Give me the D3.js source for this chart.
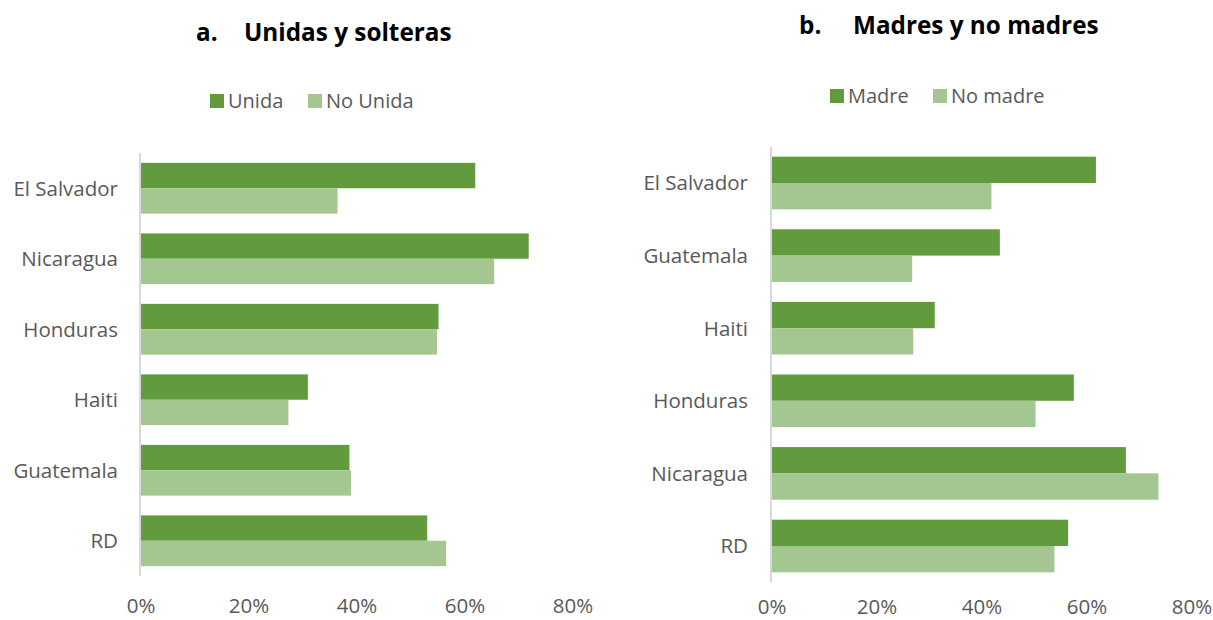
<!DOCTYPE html>
<html>
<head>
<meta charset="utf-8">
<script src="https://cdn.jsdelivr.net/npm/d3@7"></script>
<style>
  body { margin: 0; background: #fff; }
  svg { display: block; font-family: 'Open Sans', sans-serif; }
</style>
</head>
<body>
<div id="chart"></div>
<script>
// panel a
const catsA = ['El Salvador', 'Nicaragua', 'Honduras', 'Haiti', 'Guatemala', 'RD'];
const unida = [61.9, 71.8, 55.1, 30.9, 38.6, 53.0];
const noUnida = [36.4, 65.4, 54.8, 27.3, 38.9, 56.5];

// panel b
const catsB = ['El Salvador', 'Guatemala', 'Haiti', 'Honduras', 'Nicaragua', 'RD'];
const madre = [61.7, 43.4, 31.0, 57.5, 67.4, 56.4];
const noMadre = [41.8, 26.7, 26.9, 50.2, 73.6, 53.8];

const ticks = [0, 20, 40, 60, 80];
const dark = '#629B3E';
const light = '#A4C690';

const width = 1213;
const height = 620;

const svg = d3.select('#chart')
  .append('svg')
  .attr('width', width)
  .attr('height', height);

function drawPanel(cfg) {
  const g = svg.append('g');

  const x = d3.scaleLinear()
    .domain([0, 80])
    .range([cfg.x0, cfg.x1]);

  const y = d3.scaleBand()
    .domain(cfg.cats)
    .range([cfg.y0, cfg.y1])
    .paddingInner(cfg.pad)
    .paddingOuter(cfg.pad / 2);

  const sub = d3.scaleBand()
    .domain([0, 1])
    .range([0, y.bandwidth()]);

  const rows = cfg.cats.map((c, i) => ({ cat: c, vals: [cfg.s1[i], cfg.s2[i]] }));

  // bars
  g.append('g')
    .selectAll('g')
    .data(rows)
    .join('g')
    .attr('transform', (d) => `translate(0, ${y(d.cat)})`)
    .selectAll('rect')
    .data((d) => d.vals)
    .join('rect')
    .attr('x', x(0))
    .attr('y', (d, i) => sub(i))
    .attr('width', (d) => x(d) - x(0))
    .attr('height', sub.bandwidth())
    .attr('fill', (d, i) => (i === 0 ? dark : light));

  // vertical axis line
  g.append('line')
    .attr('x1', x(0) - 1)
    .attr('x2', x(0) - 1)
    .attr('y1', cfg.y0)
    .attr('y2', cfg.y1)
    .attr('stroke', '#d9d9d9')
    .attr('stroke-width', 2);

  // category labels
  g.append('g')
    .selectAll('text')
    .data(cfg.cats)
    .join('text')
    .attr('x', cfg.labelX)
    .attr('y', (d) => y(d) + y.bandwidth() / 2)
    .attr('dy', '0.36em')
    .attr('text-anchor', 'end')
    .attr('font-size', 20.5)
    .attr('fill', '#595959')
    .text((d) => d);

  // x tick labels
  g.append('g')
    .selectAll('text')
    .data(ticks)
    .join('text')
    .attr('x', (d) => x(d))
    .attr('y', cfg.tickY)
    .attr('text-anchor', 'middle')
    .attr('font-size', 20.5)
    .attr('fill', '#595959')
    .text((d) => `${d}%`);

  // title
  const t = g.append('text')
    .attr('y', cfg.titleY)
    .attr('font-size', 24.3)
    .attr('font-weight', 'bold')
    .attr('fill', '#000');
  t.append('tspan').attr('x', cfg.titleX[0]).text(cfg.title[0]);
  t.append('tspan').attr('x', cfg.titleX[1]).text(cfg.title[1]);

  // legend
  const lg = g.append('g')
    .selectAll('g')
    .data(cfg.legend)
    .join('g')
    .attr('transform', (d, i) => `translate(${cfg.legendX[i]}, ${cfg.legendY})`);
  lg.append('rect')
    .attr('x', 0)
    .attr('y', -7)
    .attr('width', 14)
    .attr('height', 14)
    .attr('fill', (d, i) => (i === 0 ? dark : light));
  lg.append('text')
    .attr('x', 18)
    .attr('dy', '0.36em')
    .attr('font-size', 20)
    .attr('fill', '#595959')
    .text((d) => d);
}

drawPanel({
  cats: catsA, s1: unida, s2: noUnida,
  x0: 141, x1: 573, y0: 153, y1: 576, pad: 0.28,
  labelX: 118, tickY: 613,
  title: ['a.', 'Unidas y solteras'], titleX: [196, 244], titleY: 41,
  legend: ['Unida', 'No Unida'], legendX: [210, 308], legendY: 101,
});

drawPanel({
  cats: catsB, s1: madre, s2: noMadre,
  x0: 772, x1: 1192, y0: 146.7, y1: 582.3, pad: 0.275,
  labelX: 748, tickY: 614,
  title: ['b.', 'Madres y no madres'], titleX: [799, 853], titleY: 34,
  legend: ['Madre', 'No madre'], legendX: [830, 933], legendY: 96,
});
</script>
</body>
</html>
